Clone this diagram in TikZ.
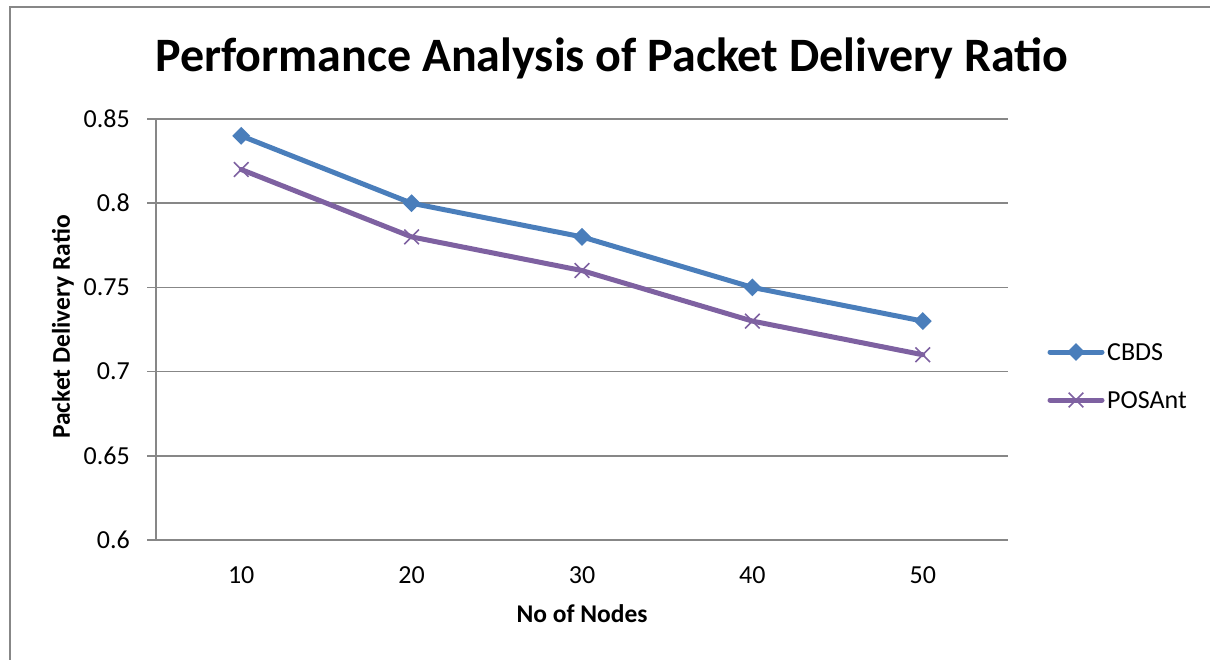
\documentclass[tikz,border=0pt]{standalone}
\usepackage{fontspec}
\setmainfont{Carlito}
\usetikzlibrary{shapes.geometric,shapes.misc}
\definecolor{axisgray}{HTML}{878787}
\definecolor{cbds}{HTML}{4A7EBB}
\definecolor{posant}{HTML}{7E61A1}
\begin{document}
\begin{tikzpicture}[x=1pt,y=-1pt,
  gridline/.style={draw=axisgray,line width=1.6pt},
  frameline/.style={draw=axisgray,line width=1.6pt},
  ticklabel/.style={font=\fontsize{26}{30}\selectfont,inner sep=0pt},
  axistitle/.style={font=\fontsize{25.5}{30}\selectfont\bfseries,inner sep=0pt},
  series/.style={line width=5pt,line join=round,line cap=round},
  dmark/.style={diamond,fill=cbds,minimum size=18pt,inner sep=0pt},
  xmark/.style={cross out,draw=posant,line width=1.6pt,minimum size=13pt,inner sep=0pt},
  legendtext/.style={font=\fontsize{26}{30}\selectfont,inner sep=0pt,anchor=west}]
\useasboundingbox (0,0) rectangle (1210,660);
% outer frame (partly cut)
\draw[frameline] (10,670) -- (10,7) -- (1220,7);
% title
\node[font=\fontsize{48}{58}\selectfont\bfseries,inner sep=0pt] (title) at (612,58) {Performance Analysis of Packet Delivery Ratio};
% gridlines and y labels
\foreach \lab [count=\i from 0] in {0.6,0.65,0.7,0.75,0.8,0.85}{
  \pgfmathsetmacro{\yy}{540-\i*84.2}
  \draw[gridline] (147,\yy) -- (1008,\yy);
  \node[ticklabel,anchor=east] (yl\i) at (130,\yy) {\lab};
}
\draw[gridline] (156,119) -- (156,540);
% x labels
\foreach \n [count=\i from 0] in {10,20,30,40,50}{
  \pgfmathsetmacro{\xx}{241.2+\i*170.4}
  \node[ticklabel] (xl\i) at (\xx,575) {\n};
}
\node[axistitle,rotate=90] (ytitle) at (63,327) {Packet Delivery Ratio};
\node[axistitle] (xtitle) at (582,614) {No of Nodes};
% data
\foreach \v [count=\i from 0] in {0.84,0.80,0.78,0.75,0.73}{
  \pgfmathsetmacro{\xx}{241.2+\i*170.4}
  \pgfmathsetmacro{\yy}{540-(\v-0.6)/0.05*84.2}
  \coordinate (c\i) at (\xx,\yy);
}
\foreach \v [count=\i from 0] in {0.82,0.78,0.76,0.73,0.71}{
  \pgfmathsetmacro{\xx}{241.2+\i*170.4}
  \pgfmathsetmacro{\yy}{540-(\v-0.6)/0.05*84.2}
  \coordinate (p\i) at (\xx,\yy);
}
\draw[series,posant] (p0) -- (p1) -- (p2) -- (p3) -- (p4);
\foreach \i in {0,...,4}{ \node[xmark] (pm\i) at (p\i) {}; }
\draw[series,cbds] (c0) -- (c1) -- (c2) -- (c3) -- (c4);
\foreach \i in {0,...,4}{ \node[dmark] (cm\i) at (c\i) {}; }
% legend
\coordinate (la1) at (1050,352); \coordinate (lb1) at (1102,352);
\coordinate (la2) at (1050,400); \coordinate (lb2) at (1102,400);
\draw[series,cbds] (la1) -- (lb1);
\node[dmark] (lm1) at (1076,352) {};
\draw[series,posant] (la2) -- (lb2);
\node[xmark] (lm2) at (1076,400) {};
\node[legendtext] (lt1) at (1107,352) {CBDS};
\node[legendtext] (lt2) at (1107,400) {POSAnt};
\end{tikzpicture}
\end{document}
